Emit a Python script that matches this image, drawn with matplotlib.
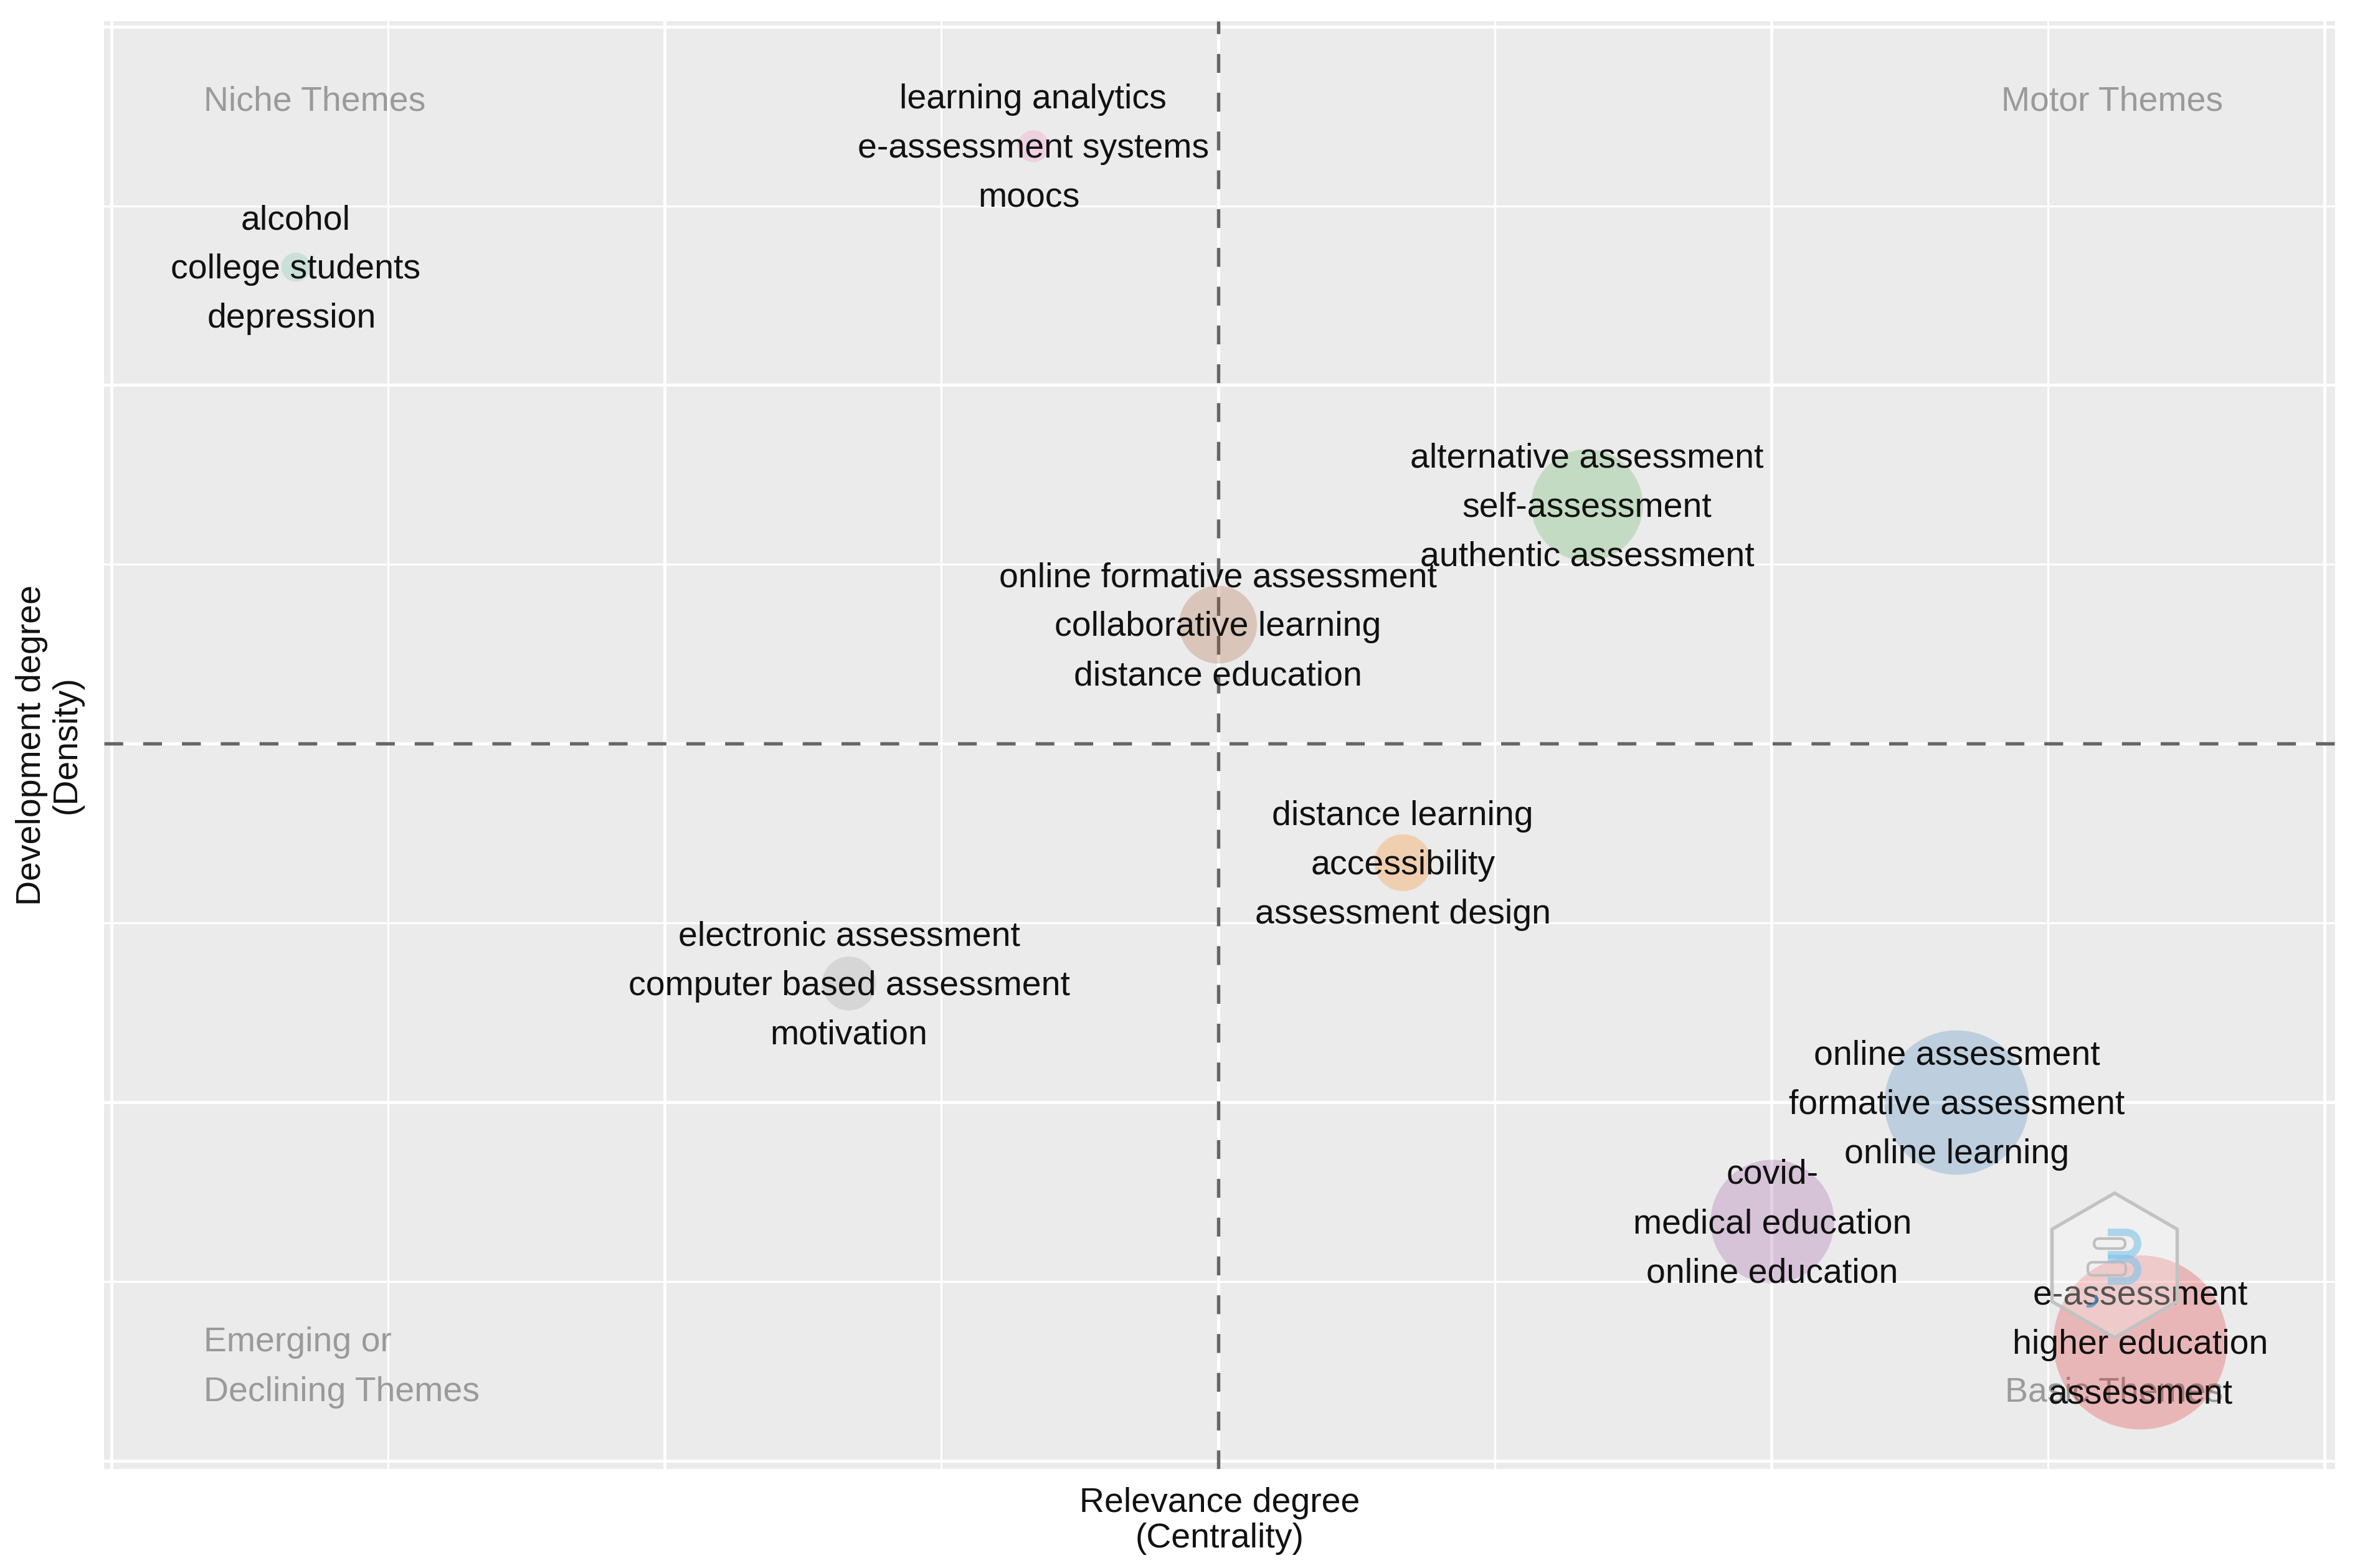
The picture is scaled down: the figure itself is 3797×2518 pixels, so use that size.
import matplotlib
matplotlib.use("Agg")
import matplotlib.pyplot as plt
from matplotlib.patches import RegularPolygon, Wedge, FancyBboxPatch, Rectangle
from matplotlib.transforms import IdentityTransform

plt.rcParams['font.family'] = ['Liberation Sans', 'DejaVu Sans']

# Cluster positions (centrality / density, rescaled ranks)
centrality = [1.667, 1.335, 1.002, 0.667, 0.334, 0.0, -0.334, -0.667, -1.667]
density = [-1.670, -1.001, -1.333, 0.665, -0.332, 0.332, 1.666, -0.669, 1.329]
bubble_size = [4500, 3100, 2270, 1850, 480, 900, 150, 430, 125]
bubble_color = ['#E41A1C', '#377EB8', '#984EA3', '#4DAF4A', '#FF7F00',
                '#A65628', '#F781BF', '#999999', '#66C2A5']
cluster_words = [
    ["e-assessment", "higher education", "assessment"],
    ["online assessment", "formative assessment", "online learning"],
    ["covid-", "medical education", "online education"],
    ["alternative assessment", "self-assessment", "authentic assessment"],
    ["distance learning", "accessibility", "assessment design"],
    ["online formative assessment", "collaborative learning", "distance education"],
    ["learning analytics", "e-assessment systems", "moocs"],
    ["electronic assessment", "computer based assessment", "motivation"],
    ["alcohol", "college students", "depression"],
]

major_ticks = [-2, -1, 0, 1, 2]
minor_ticks = [-1.5, -0.5, 0.5, 1.5]

W, H = 3797, 2518
fig = plt.figure(figsize=(W / 300, H / 300), dpi=300)
ax = fig.add_axes([167 / W, 1 - 2359 / H, (3749 - 167) / W, (2359 - 34) / H])
ax.set_facecolor('#EBEBEB')
for spine in ax.spines.values():
    spine.set_visible(False)

ax.set_xlim(-2.0136, 2.019)
ax.set_ylim(-2.023, 2.015)
ax.set_xticks(major_ticks)
ax.set_xticks(minor_ticks, minor=True)
ax.set_yticks(major_ticks)
ax.set_yticks(minor_ticks, minor=True)
ax.tick_params(which='both', length=0, labelbottom=False, labelleft=False)
ax.grid(True, which='major', color='white', linewidth=1.2)
ax.grid(True, which='minor', color='white', linewidth=0.75)
ax.set_axisbelow(True)

# Quadrant names
theme_color = '#9A9A9A'
ax.text(-1.834, 1.766, "Niche Themes", color=theme_color, fontsize=13.3)
ax.text(1.817, 1.766, "Motor Themes", color=theme_color, fontsize=13.3, ha='right')
ax.text(-1.834, -1.695, "Emerging or", color=theme_color, fontsize=13.3)
ax.text(-1.834, -1.834, "Declining Themes", color=theme_color, fontsize=13.3)
ax.text(1.817, -1.834, "Basic Themes", color=theme_color, fontsize=13.3, ha='right')

ax.axvline(0, color='#666666', linewidth=1.3, linestyle=(0, (5.6, 5.9)), zorder=2)
ax.axhline(0, color='#666666', linewidth=1.3, linestyle=(0, (5.6, 5.9)), zorder=2)

ax.scatter(centrality, density, s=bubble_size, c=bubble_color, alpha=0.25,
           linewidths=0, zorder=3)

# Three stacked keywords around every bubble
for cx, cy, words in zip(centrality, density, cluster_words):
    for i, word in enumerate(words):
        # the last word of the two top left clusters sits a little off centre
        shift = -7 if word in ("depression", "moocs") else 0
        ax.annotate(word, (cx, cy), xytext=(shift / 4.17, 19.0 * (1 - i) - 4.4),
                    textcoords='offset points', ha='center', va='baseline',
                    fontsize=13.3, color='#111111', zorder=4)

ax.set_xlabel("Relevance degree\n(Centrality)", fontsize=13.3, color='#111111',
              linespacing=1.12, labelpad=7)
ax.set_ylabel("Development degree\n(Density)", fontsize=13.3, color='#111111',
              linespacing=1.12, labelpad=8)

# Hexagon logo in the lower right corner, pixel coordinates of the figure
px = IdentityTransform()
blue = '#7FC4EA'
fig.add_artist(RegularPolygon((3395, H - 2032), 6, radius=116, transform=px,
                              facecolor=(1, 1, 1, 0.28), edgecolor='#C2C2C2', linewidth=1.3))
# book pages
for (bx, by, bw, bh) in [(3362, 1989, 50, 16), (3352, 2027, 61, 21)]:
    fig.add_artist(FancyBboxPatch((bx, H - by - bh), bw, bh, boxstyle="round,pad=0,rounding_size=8",
                                  transform=px, facecolor='none', edgecolor='#BEBEBE', linewidth=1.0))
# the blue "3" on top of them
for cy in (1997, 2039):
    fig.add_artist(Wedge((3414, H - cy), 24, -90, 90, width=12, transform=px,
                         facecolor=blue, alpha=0.6, linewidth=0))
    fig.add_artist(Rectangle((3384, H - cy + 12), 30, 12, transform=px,
                             facecolor=blue, alpha=0.6, linewidth=0))
    fig.add_artist(Rectangle((3384, H - cy - 24), 30, 12, transform=px,
                             facecolor=blue, alpha=0.6, linewidth=0))
# small mark under the book
fig.add_artist(Wedge((3354, H - 2086), 14, 250, 30, width=5, transform=px,
                     facecolor='#3F8FC8', alpha=0.7, linewidth=0))

fig.savefig("out.png", dpi=300, facecolor='white')
